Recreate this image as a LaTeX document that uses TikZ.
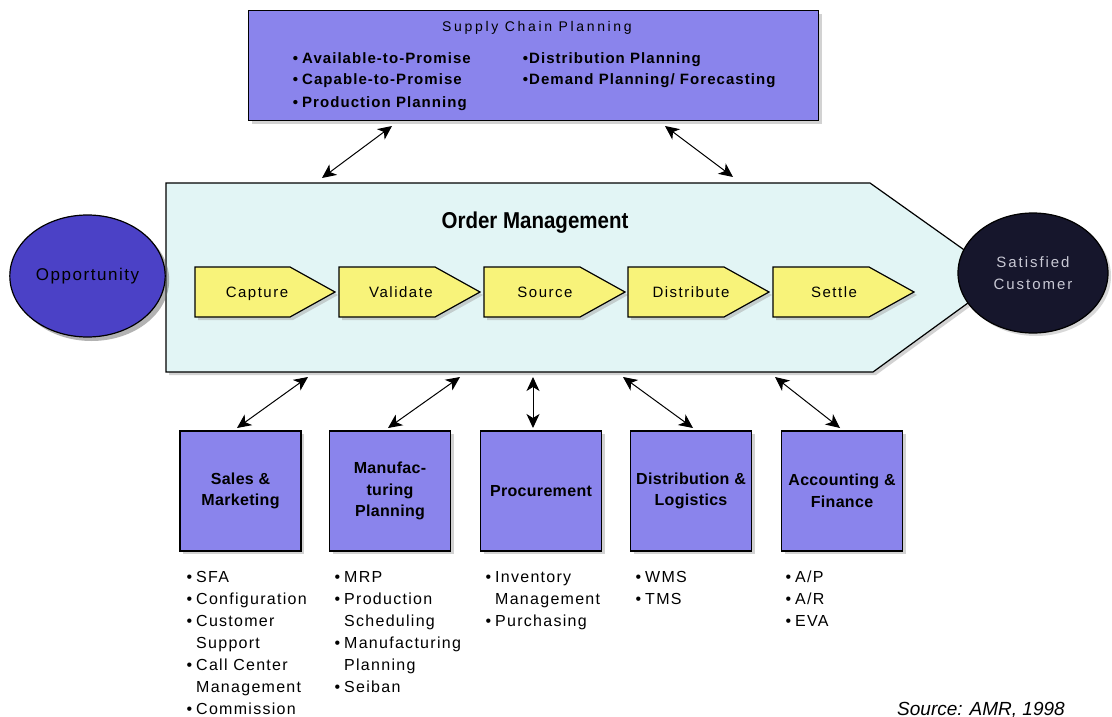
\documentclass[tikz,border=0pt]{standalone}
\usepackage{fontspec}
\setmainfont{Liberation Sans}
\newfontfamily\myftitle{Liberation Sans}[LetterSpace=19]
\newfontfamily\myfscp{Liberation Sans}[LetterSpace=7]
\newfontfamily\myflist{Liberation Sans}[LetterSpace=8]
\newfontfamily\myfyel{Liberation Sans}[LetterSpace=10]
\newfontfamily\myflab{Liberation Sans}[LetterSpace=2]
\newfontfamily\myfopp{Liberation Sans}[LetterSpace=9]
\newfontfamily\myfcust{Liberation Sans}[LetterSpace=13]
\usetikzlibrary{arrows.meta,shadows,shapes.geometric}
\definecolor{scpblue}{HTML}{8A84EC}
\definecolor{oppblue}{HTML}{4B41C6}
\definecolor{custnavy}{HTML}{16162C}
\definecolor{omfill}{HTML}{E2F5F5}
\definecolor{yel}{HTML}{F8F37A}
\definecolor{custtext}{HTML}{C8C8D4}
\begin{document}
\begin{tikzpicture}[x=1pt,y=-1pt,
  shad/.style={drop shadow={shadow xshift=3pt,shadow yshift=-3pt,fill=black!35}},
  bluebox/.style={draw=black,line width=1.4pt,fill=scpblue,shad,minimum width=121,minimum height=120,
    align=center,font=\myflab\bfseries\fontsize{16}{21.5}\selectfont,inner sep=0pt},
  yarrow/.style={draw=black,line width=1.2pt,fill=yel,shad},
  ylab/.style={anchor=base,font=\myfyel\fontsize{15}{15}\selectfont,inner sep=0pt},
  bl/.style={anchor=base west,inner sep=0pt},
  scpline/.style={bl,font=\myfscp\bfseries\fontsize{15}{15}\selectfont},
  listline/.style={bl,font=\myflist\fontsize{16}{16}\selectfont},
  biarrow/.style={{Stealth[length=14pt,width=13pt,inset=4pt]}-{Stealth[length=14pt,width=13pt,inset=4pt]},line width=1pt}
]
\fill[white] (0,0) rectangle (1112,717);
\useasboundingbox (0,0) rectangle (1112,717);

% Supply Chain Planning
\node[draw=black,line width=1.4pt,fill=scpblue,shad,minimum width=570,minimum height=110,anchor=north west,inner sep=0pt] (scp) at (248,10) {};
\node[anchor=base,font=\myftitle\fontsize{14}{14}\selectfont,inner sep=0pt] (scpt) at (537,32) {Supply Chain Planning};
\node[scpline] (s1) at (302,63.5) {\llap{•\hspace{4pt}}Available-to-Promise};
\node[scpline] (s2) at (302,84.5) {\llap{•\hspace{4pt}}Capable-to-Promise};
\node[scpline] (s3) at (302,107) {\llap{•\hspace{4pt}}Production Planning};
\node[scpline] (s4) at (529,63.5) {\llap{•\hspace{1pt}}Distribution Planning};
\node[scpline] (s5) at (529,84.5) {\llap{•\hspace{1pt}}Demand Planning/ Forecasting};

% Order Management
\draw[draw=black,line width=1.2pt,fill=omfill,shad] (166,183) -- (870,183) -- (1003,277.5) -- (873,372) -- (166,372) -- cycle;
\node[anchor=base,font=\bfseries\fontsize{20.5}{20.5}\selectfont,inner sep=0pt,yscale=1.12] (om) at (535,228) {Order Management};

% ellipses
\node[draw=black,line width=1.2pt,ellipse,fill=oppblue,minimum width=151,minimum height=122,
  drop shadow={shadow xshift=4pt,shadow yshift=-4pt,fill=black!60},font=\myfopp\fontsize{17}{17}\selectfont] (opp) at (87.5,276) {Opportunity};
\node[draw=black,line width=1.2pt,ellipse,fill=custnavy,minimum width=150,minimum height=120,
  drop shadow={shadow xshift=3pt,shadow yshift=-3pt,fill=black!30},text=custtext,align=center,
  font=\myfcust\fontsize{15}{22}\selectfont] (cust) at (1033,273) {Satisfied\\Customer};

% yellow process arrows
\draw[yarrow] (195,267) -- ++(95,0) -- ++(45,25) -- ++(-45,25) -- ++(-95,0) -- cycle;
\node[ylab] (cap) at (257,297) {Capture};
\draw[yarrow] (339,267) -- ++(96,0) -- ++(45,25) -- ++(-45,25) -- ++(-96,0) -- cycle;
\node[ylab] (val) at (401,297) {Validate};
\draw[yarrow] (484,267) -- ++(96,0) -- ++(45,25) -- ++(-45,25) -- ++(-96,0) -- cycle;
\node[ylab] (sou) at (545,297) {Source};
\draw[yarrow] (628,267) -- ++(96,0) -- ++(45,25) -- ++(-45,25) -- ++(-96,0) -- cycle;
\node[ylab] (dis) at (691,297) {Distribute};
\draw[yarrow] (773,267) -- ++(96,0) -- ++(45,25) -- ++(-45,25) -- ++(-96,0) -- cycle;
\node[ylab] (set) at (834,297) {Settle};

% functional boxes
\node[bluebox] (sales) at (240.5,491) {Sales \&\\Marketing};
\node[bluebox] (manu) at (390,491) {Manufac-\\turing\\Planning};
\node[bluebox] (proc) at (541,491) {Procurement};
\node[bluebox] (dist) at (691,491) {Distribution \&\\Logistics};
\node[bluebox] (acct) at (842,491) {Accounting \&\\Finance};

% lists
\node[listline] (l11) at (196,582) {\llap{•\hspace{4pt}}SFA};
\node[listline] (l12) at (196,604) {\llap{•\hspace{4pt}}Configuration};
\node[listline] (l13) at (196,626) {\llap{•\hspace{4pt}}Customer};
\node[listline] (l14) at (196,648) {Support};
\node[listline] (l15) at (196,670) {\llap{•\hspace{4pt}}Call Center};
\node[listline] (l16) at (196,692) {Management};
\node[listline] (l17) at (196,714) {\llap{•\hspace{4pt}}Commission};

\node[listline] (l21) at (344,582) {\llap{•\hspace{4pt}}MRP};
\node[listline] (l22) at (344,604) {\llap{•\hspace{4pt}}Production};
\node[listline] (l23) at (344,626) {Scheduling};
\node[listline] (l24) at (344,648) {\llap{•\hspace{4pt}}Manufacturing};
\node[listline] (l25) at (344,670) {Planning};
\node[listline] (l26) at (344,692) {\llap{•\hspace{4pt}}Seiban};

\node[listline] (l31) at (495,582) {\llap{•\hspace{4pt}}Inventory};
\node[listline] (l32) at (495,604) {Management};
\node[listline] (l33) at (495,626) {\llap{•\hspace{4pt}}Purchasing};

\node[listline] (l41) at (645,582) {\llap{•\hspace{4pt}}WMS};
\node[listline] (l42) at (645,604) {\llap{•\hspace{4pt}}TMS};

\node[listline] (l51) at (795,582) {\llap{•\hspace{4pt}}A/P};
\node[listline] (l52) at (795,604) {\llap{•\hspace{4pt}}A/R};
\node[listline] (l53) at (795,626) {\llap{•\hspace{4pt}}EVA};

\node[anchor=base west,inner sep=0pt,font=\itshape\fontsize{19}{19}\selectfont] (src) at (897,715) {Source: AMR, 1998};

% connector end points
\coordinate (t1a) at (392,126); \coordinate (t1b) at (322,178);
\coordinate (t2a) at (665,126); \coordinate (t2b) at (733,177);
\coordinate (b1) at (308,377); \coordinate (b2) at (460,377); \coordinate (b3) at (533,377);
\coordinate (b4) at (623,377); \coordinate (b5) at (775,377);
\coordinate (e1) at (237,428); \coordinate (e2) at (388,428); \coordinate (e3) at (533,428);
\coordinate (e4) at (693,428); \coordinate (e5) at (840,428);

\draw[biarrow] (t1a) -- (t1b);
\draw[biarrow] (t2a) -- (t2b);
\draw[biarrow] (b1) -- (e1);
\draw[biarrow] (b2) -- (e2);
\draw[biarrow] (b3) -- (e3);
\draw[biarrow] (b4) -- (e4);
\draw[biarrow] (b5) -- (e5);
\end{tikzpicture}
\end{document}
